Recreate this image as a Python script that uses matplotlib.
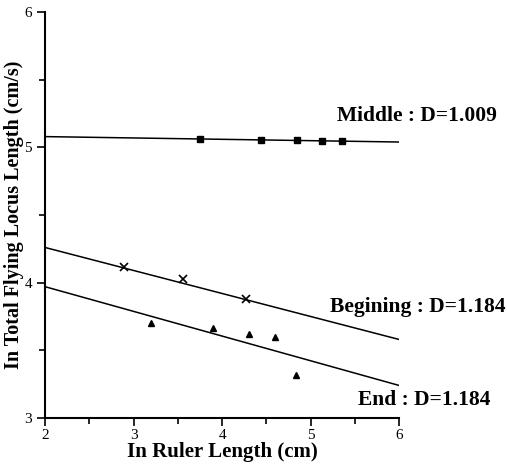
import numpy as np
import matplotlib.pyplot as plt

plt.rcParams['font.family'] = ['Liberation Serif', 'DejaVu Serif']

# ln ruler length / ln total flying locus length
middle_x = [3.75, 4.44, 4.85, 5.13, 5.36]
middle_y = [5.06, 5.055, 5.055, 5.05, 5.05]
begin_x = [2.89, 3.56, 4.27]
begin_y = [4.115, 4.03, 3.88]
end_x = [3.20, 3.90, 4.31, 4.60, 4.84]
end_y = [3.70, 3.665, 3.62, 3.60, 3.32]

# fitted lines (value at x=2 and x=6)
fit_x = [2, 6]
middle_fit = [5.08, 5.04]
begin_fit = [4.26, 3.58]
end_fit = [3.97, 3.24]

fig = plt.figure(figsize=(5.07, 4.69), dpi=100)
ax = fig.add_axes([0.089, 0.109, 0.698, 0.865])

ax.plot(fit_x, middle_fit, color='black', lw=1.1)
ax.plot(fit_x, begin_fit, color='black', lw=1.1)
ax.plot(fit_x, end_fit, color='black', lw=1.1)

ax.plot(middle_x, middle_y, 's', color='black', ms=5)
ax.plot(begin_x, begin_y, 'x', color='black', ms=5.5, mew=1.2)
ax.plot(end_x, end_y, '^', color='black', ms=5)

ax.set_xlim(2, 6)
ax.set_ylim(3, 6)
ax.set_xticks([2, 3, 4, 5, 6])
ax.set_xticks(np.arange(2.5, 6, 1), minor=True)
ax.set_yticks([3, 4, 5, 6])
ax.set_yticks(np.arange(3.5, 6, 1), minor=True)
ax.tick_params(which='both', direction='out', width=1.2, labelsize=11)
ax.tick_params(which='major', length=6)
ax.tick_params(which='minor', length=4)
ax.tick_params(axis='x', pad=2)
ax.spines['top'].set_visible(False)
ax.spines['right'].set_visible(False)
ax.spines['left'].set_linewidth(1.5)
ax.spines['bottom'].set_linewidth(1.5)

ax.set_xlabel('In Ruler Length (cm)', fontsize=15, fontweight='bold', labelpad=0)
ax.set_ylabel('In Total Flying Locus Length (cm/s)', fontsize=14.5, fontweight='bold', labelpad=0)

fig.text(0.98, 0.752, 'Middle : D=1.009', ha='right', va='center', fontsize=15.5, fontweight='bold')
fig.text(0.998, 0.345, 'Begining : D=1.184', ha='right', va='center', fontsize=15.5, fontweight='bold')
fig.text(0.967, 0.147, 'End : D=1.184', ha='right', va='center', fontsize=15.5, fontweight='bold')

fig.savefig('out.png', dpi=100)
